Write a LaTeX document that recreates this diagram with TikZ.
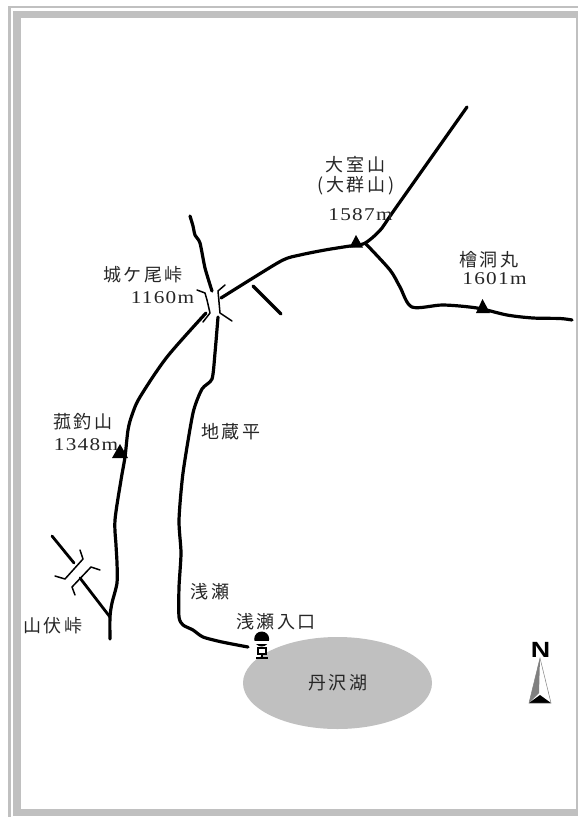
\documentclass[tikz,border=0pt]{standalone}
\usepackage{fontspec}
\newfontfamily\jpfont[LetterSpace=14]{Noto Sans CJK JP}
\newfontfamily\numfont[LetterSpace=6]{Liberation Serif}
\definecolor{framegray}{HTML}{C0C0C0}
\definecolor{inkgray}{HTML}{262626}
\tikzset{
  road/.style={line width=3.2pt,line cap=round,line join=round,black},
  pass/.style={line width=1.5pt,line cap=round,line join=round,black},
  peak/.style={fill=black,draw=none},
  jp/.style={inner sep=0pt,text=inkgray,font=\jpfont\fontsize{18}{18}\selectfont},
  num/.style={inner sep=0pt,text=inkgray,xscale=1.18,font=\numfont\fontsize{18}{18}\selectfont}
}
\begin{document}
\begin{tikzpicture}[x=1pt,y=-1pt]
\useasboundingbox (0,0) rectangle (578,817);
% frame
\fill[framegray] (8,6) rectangle (578,8.4);
\fill[framegray] (8,6) rectangle (10.8,817);
\fill[framegray] (13.4,11) rectangle (578,18);
\fill[framegray] (13.4,11) rectangle (20.6,816);
\fill[framegray] (13.4,809) rectangle (578,816);
\fill[framegray] (576.4,18) rectangle (578,809);
% lake
\fill[framegray] (337.5,683) ellipse [x radius=94.5,y radius=46];
% roads
\draw[road] plot[smooth,tension=.4] coordinates {(190,216) (193,226) (195,235) (200,243) (205,268) (212,291)};
\draw[road] plot[smooth,tension=.5] coordinates {(221,298) (253,278) (283,260) (300,255) (325,250) (350,246) (363,244) (372,238) (382,228) (395,209) (467,107)};
\draw[road] (253,286) -- (281,314);
\draw[road] plot[smooth,tension=.5] coordinates {(366,244) (390,270) (400,287) (412,307) (443,305) (477,308) (507,315) (533,318) (560,318.5) (572,320)};
\draw[road] plot[smooth,tension=.5] coordinates {(206,313) (167,357) (140,397) (132,415) (128,430) (125,457) (121,480) (115,520) (116,545) (117,563) (117,583) (112,603) (110,617) (110,639)};
\draw[road] plot[smooth,tension=.4] coordinates {(218,317) (215,353) (212,379) (202,389) (193,413) (183,473) (179,520) (181,553) (179,587) (179,617) (183,625) (193,630) (203,637) (222,642) (248,647)};
\draw[road,line width=2.8pt] (52,536) -- (74,563);
\draw[road,line width=2.8pt] (80,578) -- (110,617);
% passes
\draw[pass] (197,290) -- (205,293) -- (207,300) -- (210,313) -- (203,322);
\draw[pass] (225,285) -- (218,291) -- (220,313) -- (232,321);
\draw[pass] (80,550) -- (83,559) -- (65,579) -- (55,576);
\draw[pass] (75,595) -- (72,587) -- (91,567) -- (100,570);
% peaks
\fill[peak] (356,235) -- (363,247.5) -- (349.5,247.5) -- cycle;
\fill[peak] (482.5,299) -- (490,313) -- (476,313) -- cycle;
\fill[peak] (120,444) -- (128,458) -- (112,458) -- cycle;
% bus stop
\fill (261.7,639) circle [radius=7.5];
\fill[white] (253,640.5) rectangle (270,643.5);
\draw[line width=2pt] (257.5,648) rectangle (266,654);
\fill (260.7,654) rectangle (262.7,658);
\fill (256,656.5) rectangle (268,658.5);
% north arrow
\fill[gray] (540,658) -- (529,703) -- (539,693) -- cycle;
\fill[black] (529,703) -- (540,695) -- (551,703) -- cycle;
\draw[line width=.5pt,gray] (540,658) -- (551,703) -- (529,703) -- cycle;
\node[inner sep=0pt,xscale=1.22] (north) at (540.5,649.5) {\fontspec{Liberation Sans Bold}\fontsize{22}{22}\selectfont N};
% labels
\node[jp] (joga) at (143,275) {城ケ尾峠};
\node[num] (jogam) at (162.5,298) {1160m};
\node[jp] (komo) at (83,422) {菰釣山};
\node[num] (komom) at (86,445) {1348m};
\node[jp] (jizo) at (231,432) {地蔵平};
\node[jp] (asase) at (210,592) {浅瀬};
\node[jp] (iriguchi) at (276,622) {浅瀬入口};
\node[jp] (yabushi) at (53,626) {山伏峠};
\node[jp] (tanzawa) at (338,683) {丹沢湖};
\node[jp] (omuro) at (355.5,165) {大室山};
\node[jp] (ogun) at (356,186) {(大群山)};
\node[num] (omurom) at (360.5,215) {1587m};
\node[jp] (hinoki) at (489,260) {檜洞丸};
\node[num] (hinokim) at (494.5,279) {1601m};
\end{tikzpicture}
\end{document}
